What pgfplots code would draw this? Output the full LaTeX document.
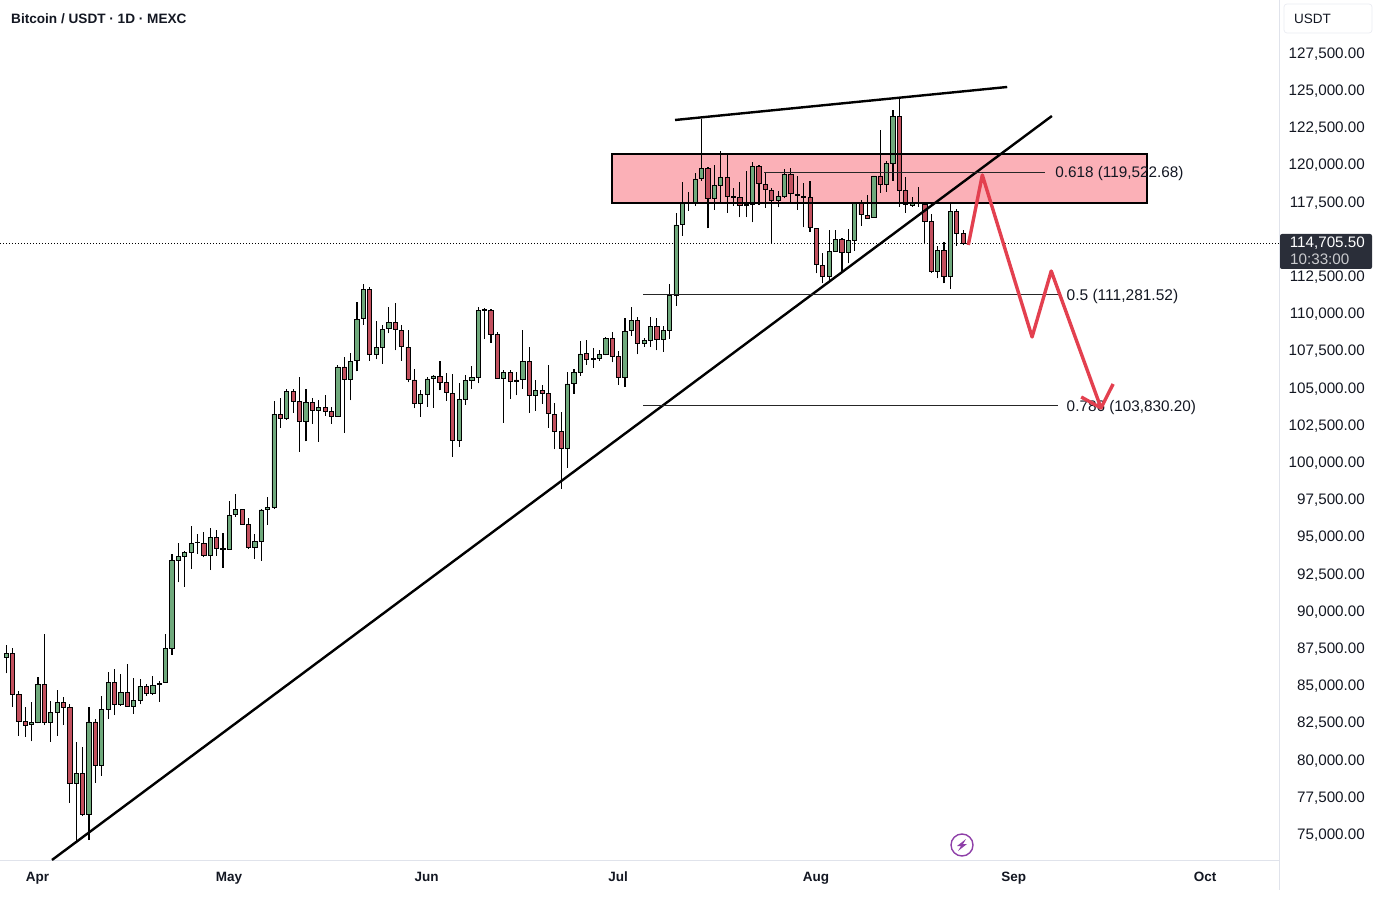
\documentclass[border=0pt]{standalone}
\usepackage{fontspec}
\setmainfont{Liberation Sans}
\usepackage{pgfplots}
\usepackage{pgfplotstable}
\pgfplotsset{compat=1.18}
\definecolor{upc}{HTML}{6FA97C}
\definecolor{dnc}{HTML}{C2505E}
\definecolor{zonec}{HTML}{FBB0B7}
\definecolor{redl}{HTML}{E3404F}
\definecolor{axc}{HTML}{E0E3EB}
\definecolor{tagc}{HTML}{2A2E39}
\definecolor{purp}{HTML}{8E3FA8}
\definecolor{txt}{HTML}{131722}
\pgfplotstableread{
d o h l c
-5 86895 87746 85842 87186
-4 87186 87522 83602 84431
-3 84431 84655 81653 82616
-2 82616 83557 81586 82348
-1 82392 83916 81272 82549
0 82527 85596 82482 85125
1 85125 88508 82370 82527
2 82527 83983 81250 83199
3 83199 84722 81653 83893
4 83893 84274 82370 83557
5 83535 83759 77151 78428
6 78428 81228 74530 79122
7 79122 80892 76255 76344
8 76344 83557 74642 82572
9 82572 82751 78495 79637
10 79637 84319 78965 83423
11 83423 85909 82796 85237
12 85237 86111 83042 83736
13 83736 85797 83669 84565
14 84565 86469 83602 83602
15 83602 85506 83132 84028
16 84050 85439 83759 84946
17 84946 85125 84319 84476
18 84476 85685 84386 85036
19 85103 85327 83938 85192
20 85215 88485 85215 87522
21 87522 93839 87096 93436
22 93436 94623 91957 93704
23 93704 94063 91666 93973
24 93973 95743 92876 94578
25 94623 95183 93861 94645
26 94578 95362 93637 93749
27 93749 95608 92786 94981
28 94981 95452 93749 94242
29 94152 95250 92943 94242
30 94175 97423 94175 96460
31 96504 97893 96370 96863
32 96863 96885 95810 95832
33 95832 96303 94220 94287
34 94287 95183 93548 94712
35 94735 96863 93391 96818
36 96840 97692 95810 96997
37 97020 104143 96908 103247
38 103247 104344 102351 102956
39 102956 104927 102866 104792
40 104792 104949 103359 104098
41 104120 105733 100738 102776
42 102776 104949 101432 104053
43 104053 104322 102620 103516
44 103516 104210 101410 103717
45 103717 104524 103135 103471
46 103448 103740 102620 103112
47 103135 106562 103135 106428
48 106428 107077 102015 105599
49 105599 107346 104188 106808
50 106853 110773 106136 109608
51 109698 111983 109250 111647
52 111647 111781 106831 107301
53 107301 109519 106943 107749
54 107749 109250 106651 108959
55 109004 110437 108690 109429
56 109429 110706 107548 108936
57 108892 109250 106831 107816
58 107749 108892 105397 105599
59 105554 106293 103650 103964
60 103964 104860 103090 104568
61 104591 105778 103762 105621
62 105644 105890 103695 105823
63 105800 106808 104860 105397
64 105375 106002 104165 104703
65 104658 105935 100402 101500
66 101500 105330 101074 104255
67 104277 105890 103874 105532
68 105532 106495 104949 105711
69 105733 110482 105330 110236
70 110303 110370 108332 110258
71 110236 110303 108063 108623
72 108623 108802 105644 105666
73 105644 106226 102687 106069
74 106047 106226 104277 105442
75 105554 106092 104524 105442
76 105599 108936 104972 106808
77 106786 107772 103359 104546
78 104546 105554 103493 104837
79 104860 105218 103964 104636
80 104658 106562 102351 103292
81 103247 103986 100895 102082
82 102082 103404 98229 100962
83 100962 106069 99663 105285
84 105308 106271 104636 106069
85 106069 108152 105845 107301
86 107324 108242 106584 106943
87 106988 107682 106383 106943
88 107010 107570 106831 107256
89 107301 108466 107212 108332
90 108332 108757 106741 107122
91 107122 107525 105240 105711
92 105711 109698 105084 108824
93 108892 110482 108511 109541
94 109541 109765 107279 107996
95 107996 108399 107794 108197
96 108197 109765 107794 109138
97 109160 109720 107548 108264
98 108264 109183 107458 108869
99 108869 112005 108332 111221
100 111266 116799 110530 115970
101 116015 118837 115231 117448
102 117448 118188 116911 117404
103 117426 119487 117269 119061
104 119084 123071 118949 119778
105 119778 119890 115746 117739
106 117739 120002 116978 118613
107 118613 120943 117493 119151
108 119151 120719 116799 117896
109 117896 118479 117247 117807
110 117829 118837 116485 117269
111 117381 119621 116507 117292
112 117359 120226 116149 119912
113 119912 120024 117314 118770
114 118703 119554 117135 118367
115 118300 118434 114716 117605
116 117605 118277 117157 117896
117 117896 119755 117762 119375
118 119375 119778 117471 118076
119 118031 119263 116978 117941
120 117896 118792 115813 117807
121 117807 118927 115522 115791
122 115746 115746 112722 113304
123 113260 114066 112050 112498
124 112498 115634 112050 114200
125 114200 115634 114178 115007
126 115007 115074 112834 114111
127 114111 115679 113394 114940
128 114962 117538 114223 117448
129 117471 117650 115925 116664
130 116620 117964 116418 116440
131 116485 119263 116463 119263
132 119263 122354 118143 118680
133 118680 120293 118210 120092
134 120092 123698 118949 123272
135 123272 124437 117202 118300
136 118277 119173 116799 117336
137 117314 117829 117202 117426
138 117471 118546 117202 117426
139 117381 117426 114671 116216
140 116216 116709 112767 112856
141 112856 114558 112386 114268
142 114268 114805 112050 112498
143 112498 117426 111692 116888
144 116888 117045 114581 115410
145 115410 115634 114626 114716
}\candles
\pgfplotsset{base/.style={
  at={(0pt,43pt)}, anchor=south west, scale only axis,
  width=1279pt, height=860pt,
  xmin=-5.956, xmax=194.5, ymin=73298, ymax=131090}}
\begin{document}
\begin{tikzpicture}[x=1pt,y=1pt]
\useasboundingbox (0,0) rectangle (1386,903);
\begin{axis}[base,
  axis x line*=bottom, axis y line*=right,
  axis line style={axc,line width=1pt,-},
  xtick={0,30,61,91,122,153,183},
  xticklabels={Apr,May,Jun,Jul,Aug,Sep,Oct},
  xticklabel style={font=\fontsize{13.5}{14}\selectfont\bfseries,text=txt,text height=10pt,text depth=3pt,inner sep=0pt,yshift=-11.5pt,xshift=-0.5pt},
  ytick={75000,77500,80000,82500,85000,87500,90000,92500,95000,97500,100000,102500,105000,107500,110000,112500,117500,120000,122500,125000,127500},
  yticklabel style={font=\fontsize{15.2}{15}\selectfont,text=txt,anchor=east,xshift=86pt,yshift=-0.5pt,inner sep=0pt,
    /pgf/number format/.cd,fixed,fixed zerofill,precision=2,1000 sep={,},assume math mode=true},
  scaled y ticks=false,
  major tick length=0pt,
  tick style={draw=none},
]
\addplot[fill=zonec,draw=none] coordinates {(89.97,117448)(173.8,117448)(173.8,120741)(89.97,120741)} -- cycle;
\addplot[black,dash pattern=on 1pt off 2pt,line width=0.9pt,forget plot] coordinates {(-5.956,114705.5)(194.5,114705.5)};
\addplot[draw=none,mark=none,forget plot,
  error bars/.cd,y dir=both,y explicit,error mark=none,error bar style={black,line width=1.1pt}]
  table[x=d,y=l,y error plus expr=\thisrow{h}-\thisrow{l},y error minus expr=0]{\candles};
\end{axis}
\begin{axis}[base,hide axis,ybar stacked,bar width=4.2pt]
\addplot[draw=none,fill=none,forget plot] table[x=d,y expr={min(\thisrow{o},\thisrow{c})}]{\candles};
\addplot[draw=black,line width=0.9pt,fill=upc,forget plot] table[x=d,y expr={\thisrow{c}>\thisrow{o}?\thisrow{c}-\thisrow{o}:0}]{\candles};
\addplot[draw=black,line width=0.9pt,fill=dnc,forget plot] table[x=d,y expr={\thisrow{c}>\thisrow{o}?0:\thisrow{o}-\thisrow{c}}]{\candles};
\end{axis}
\begin{axis}[base,hide axis]
\addplot[black,line width=2.2pt] coordinates {(89.97,117448)(173.8,117448)(173.8,120741)(89.97,120741)} -- cycle;
\addplot[black,line width=2.4pt] coordinates {(2.19,73298)(158.9,123295)};
\addplot[black,line width=2.4pt] coordinates {(99.84,123026)(151.9,125244)};
\addplot[black!85,line width=1.1pt] coordinates {(113.8,119522.68)(157.8,119522.68)};
\addplot[black!85,line width=1.1pt] coordinates {(94.83,111281.52)(159.9,111281.52)};
\addplot[black!85,line width=1.1pt] coordinates {(94.83,103830.20)(159.9,103830.20)};
\node[anchor=west,inner sep=0pt,yshift=-1.5pt,text=txt,font=\fontsize{15.3}{15}\selectfont] at (axis cs:159.4,119522.68) {0.618 (119,522.68)};
\node[anchor=west,inner sep=0pt,yshift=-1.5pt,text=txt,font=\fontsize{15.5}{15}\selectfont] at (axis cs:161.2,111281.52) {0.5 (111,281.52)};
\node[anchor=west,inner sep=0pt,yshift=-1.5pt,text=txt,font=\fontsize{15.3}{15}\selectfont] at (axis cs:161.2,103830.20) {0.786 (103,830.20)};
\addplot[redl,line width=3.4pt,line join=round] coordinates {(145.8,114626)(148.0,119330)(155.8,108444)(158.8,112879)(166.6,103672)};
\addplot[redl,line width=3.4pt,line join=round] coordinates {(163.5,104412)(166.6,103672)(168.5,105285)};
\end{axis}
% chrome
\draw[axc,line width=1pt] (1279,43) -- (1279,13);
\node[anchor=west,inner sep=0pt,text=txt,font=\fontsize{13.6}{14}\selectfont\bfseries] at (11,884.5) {Bitcoin / USDT · 1D · MEXC};
\draw[axc!70,rounded corners=3pt,line width=0.7pt] (1284,899) rectangle (1372,870);
\node[anchor=west,inner sep=0pt,text=txt,font=\fontsize{13.5}{14}\selectfont] at (1294,884) {USDT};
\fill[tagc,rounded corners=2pt] (1280,669) rectangle (1372,634);
\node[anchor=east,inner sep=0pt,text=white,font=\fontsize{15.2}{15}\selectfont] at (1365,659.5) {114,705.50};
\node[anchor=west,inner sep=0pt,text=white!75!tagc,font=\fontsize{15.2}{15}\selectfont] at (1290,644) {10:33:00};
\draw[purp,line width=1.4pt] (962,58) circle (11);
\fill[purp] (966,64) -- (957,57) -- (961,57) -- (958,52) -- (967,59) -- (963,59) -- cycle;
\end{tikzpicture}
\end{document}
